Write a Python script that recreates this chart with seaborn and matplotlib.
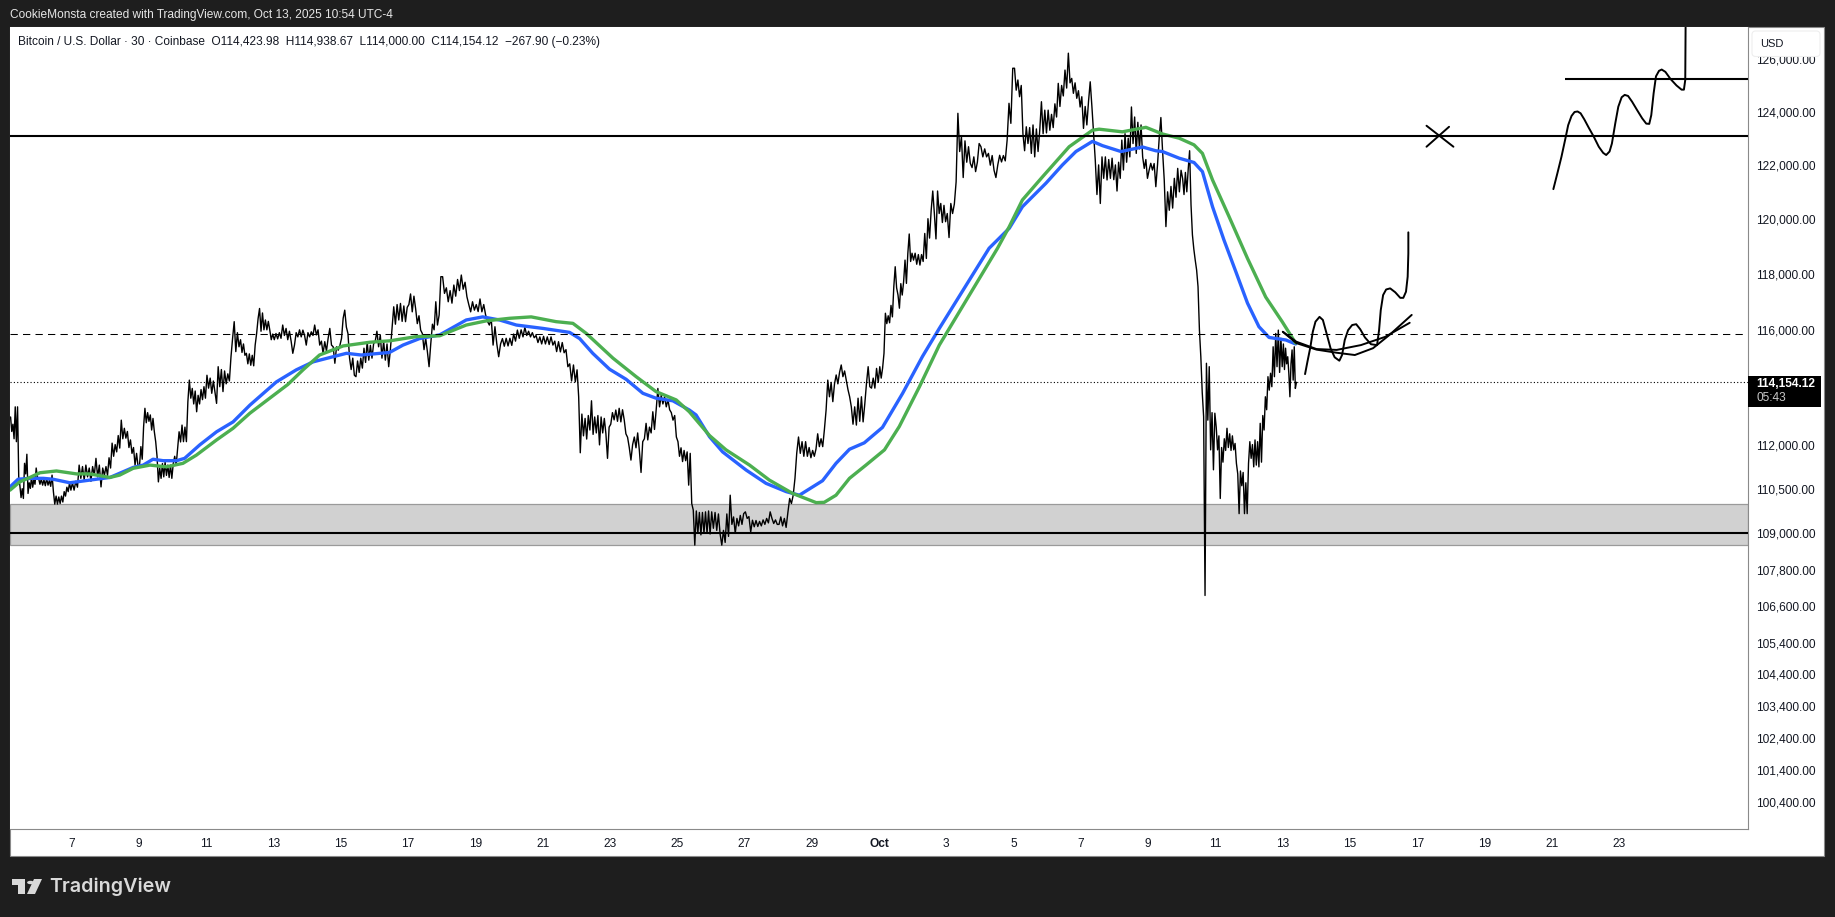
import numpy as np
import pandas as pd
import matplotlib
matplotlib.use("Agg")
import matplotlib.pyplot as plt
from matplotlib.patches import Rectangle, Polygon, Circle, FancyBboxPatch
import seaborn as sns

# ---- price swings, one list per day (days counted from Sep 1; Oct 1 = 31) ----
sep05 = [112950,112450,112700,112200,113300,112100,113300,110900,110600,110200,110500,110170,111360,111000,111670,110340,110700,110510,110900,110550,110800,110650,111200,110900]
sep06 = [110850,110650,110820,110620,110800,110600,110850,110620,110780,110580,110960,110400,109980,110250,109980,110220,110000,110250,110050,110400,110250,110550,110400,110700,110450]
sep07 = [110700,110450,110750,110550,111300,110850,111250,110800,111300,110900,111200,110750,111250,110950,111530,110900,111300,110560,111200,110950]
sep08 = [111250,110950,111550,111200,112050,111600,112000,111750,112310,111880,112840,112200,112560,112220,112450,111900,112160,111700,111900,111300,111700,111240]
sep09 = [111300,111930,111500,112600,113250,112750,113100,112800,113020,112500,112900,112440,112100,111600,110730,111200,110850,111350,110900,111400,110950,111300,110880,111300,110850]
sep10 = [111350,111600,111300,111890,112440,112090,112670,112100,112600,112100,113480,114230,113600,113940,113400,113850,113130,113700,113400,113900,113550,114000,113600]
sep11 = [114400,113950,114300,113770,114200,113800,113420,114700,114000,114600,113830,114550,114100,114450,114200,115050,115700,116290,115230,115900,115400]
sep12 = [115650,115200,115500,115100,115170,114800,115150,114750,115100,114730,115460,115870,116400,116760,115950,116600,116000,116350,116000,116300,115990,115650,115850]
sep13 = [115650,115870,115680,115900,115700,116170,115800,116050,115650,115950,115600,115170,115460,115900,115750,116000,115750,115990,115800,115460]
sep14 = [115900,115750,115930,115800,116170,115820,116000,115460,115600,115170,115580,115250,115700,116050,115460,115400,114820,115400,115280,115450]
sep15 = [115700,116410,116700,116100,115870,115000,114600,115000,114400,114350,114900,114500,115000,114650,115350,114850,115580,114930,115450,115000,115500]
sep16 = [115600,115950,115400,115820,115000,115600,114930,115500,114700,115300,116050,116820,116200,116900,116350,116940,116300,116850,116290,116800]
sep17 = [116900,117280,116640,117200,116760,116220,116500,115990,115870,115300,115700,115230,114700,115500,116200,116000,117000,116170,116530,117900]
sep18 = [117900,117300,117500,117000,117400,116950,117600,117200,117800,117400,117960,117450,117700,117180,116900,116640,117000,116700]
sep19 = [116900,116650,117100,116640,116900,116530,116300,116170,116400,115460,116110,115500,115050,115500,115690,115420,115700,115430]
sep20 = [115700,115450,115850,115600,115990,115700,116000,115750,116090,115800,115950,115750,115900,115720,115800,115550,115750,115500]
sep21 = [115770,115500,115750,115480,115750,115460,115600,115230,115580,115220,115550,115190,115300,114700,114800,114200,114760,114170]
sep22 = [114590,113650,111720,113050,112300,112900,112190,113000,112500,113510,112350,112950,112400,113000,111990,112950,112400,112900,112370,111530,112600]
sep23 = [112700,113100,112850,113190,112800,113250,112780,113200,112850,112370,112250,111900,111470,112000,112260,111890,112400,111800,111050,112100]
sep24 = [112200,112730,112160,112600,112400,113130,112520,113200,113940,113300,113700,113400,113650,113300,113550,113200,113100,112840,113000,112260]
sep25 = [112100,111600,111890,111420,111800,111450,111750,110620,111700,110000,109780,108610,109750,109000,109700,108950,109700,109000,109720,109000,109750,108980]
sep26 = [109720,109170,109700,109100,109650,108980,108610,109100,108700,109650,108900,110280,109300,109550,109000,109500,109250,109600,109300,109660]
sep27 = [109720,109500,109560,109050,109440,109220,109430,109230,109400,109250,109450,109300,109500,109350,109720,109500,109330,109450,109300]
sep28 = [109300,109550,109250,109500,109200,109700,110170,110000,110280,110850,111710,112260,111700,112100,111600,112100,111600,111900,111550]
sep29 = [111800,111600,111850,112370,111930,112200,111930,112520,113190,114230,113650,114150,113480,114100,114410,114100,114500,114760,114350,114550]
sep30 = [114230,113900,113650,113300,112700,113300,112670,113600,112800,113650,112780,113400,114110,114700,114000,113950,114300,113950,114640,114150]
oct01 = [114700,114300,114650,115170,116590,116220,116500,116250,116870,116460,117540,118260,117500,117240,116770,117650,117240,117720,118500,117660,118740,119450,118450,118750]
oct02 = [118500,118750,118350,118700,118320,118700,118450,119470,118560,120010,119300,120310,121030,120200,119270,121030,120200,120570,119870,120500,119900]
oct03 = [120200,119320,120570,120200,120550,121370,123940,122500,123060,121530,122900,122100,122680,122060,121900,122300,121750,122100,122800]
oct04 = [122680,122300,122600,122300,122430,121990,122350,121800,121530,122000,122360,122110,122350,122150,122930,124320,123560,125660]
oct05 = [125660,124820,125210,124570,125000,123170,122530,123430,122800,123400,122430,123500,122300,123350,122500,123300,124380,123170,124060,123200]
oct06 = [124060,123300,123900,123400,124300,123800,125080,124200,125000,124600,125590,124900,126240,125100,125270,124700,125100,124510,124800,124180]
oct07 = [124570,123370,124200,123500,124400,125140,124200,123170,122180,120900,122000,120570,122300,121500,122300,121440,122200,121500,122250,121450]
oct08 = [122000,121030,122100,121500,122930,121810,123170,122100,123000,122300,124180,122800,123800,122430,123600,122600,123500,122300,121870,122200,121500]
oct09 = [121800,122060,121810,122050,121190,122000,123000,123780,122530,121440,119720,121000,120320,121200,120400,121500,120800,121870,121000,121800]
oct10 = [121500,120900,121720,121000,121840,122530,120520,119420,118900,118500,118140,117540,115990,115050,113800,112960,106950,114820,112840,114700,111820,113100,111140,113080]
oct11 = [112600,111820,112300,110170,111900,111400,112200,111800,112560,111900,112370,111800,112300,111820,112040,111360,111000,109660,111100,110600,111050,109660,110700,109660,111360]
oct12 = [112100,111530,112000,111240,112160,111300,112100,111240,112730,111400,113000,112500,113650,113200,114350,113880,114470,114000,115400,114350,115870,114700,115990,114500,115700,114700]
oct13 = [115500,114600,115350,114800,115050,114470,113650,114800,115290,114230,115400,113940,114154]
price_days = [sep05,sep06,sep07,sep08,sep09,sep10,sep11,sep12,sep13,sep14,sep15,sep16,sep17,sep18,sep19,sep20,sep21,sep22,sep23,sep24,sep25,sep26,sep27,sep28,sep29,sep30,oct01,oct02,oct03,oct04,oct05,oct06,oct07,oct08,oct09,oct10,oct11,oct12,oct13]
first_day, last_day = 5.17, 43.42

blue_x = [5.17,5.41,5.76,6.16,6.45,6.95,7.54,8.14,8.83,9.13,9.42,9.72,10.12,10.36,10.81,11.31,11.80,12.30,13.09,13.68,14.18,14.87,15.17,15.61,16.45,16.85,17.34,17.94,18.73,19.22,19.72,20.22,21.01,21.80,22.10,22.49,22.99,23.48,23.98,24.37,24.87,25.36,25.56,25.96,26.35,27.05,27.64,28.24,28.63,29.32,29.72,30.12,30.56,31.10,31.70,32.29,32.79,34.27,34.87,35.26,35.96,36.45,36.85,37.34,37.64,38.19,38.83,39.22,39.42,39.92,40.36,40.61,40.91,41.25,41.60,41.95,42.29,42.59,43.09,43.38]
blue_y = [110560,110820,110850,110850,110820,110700,110790,110880,111220,111300,111500,111450,111450,111530,111990,112440,112780,113360,114170,114590,114870,115080,115170,115110,115200,115460,115690,115820,116350,116460,116350,116170,116050,115910,115690,115170,114610,114260,113770,113600,113510,113190,113020,112270,111750,111130,110680,110400,110280,110770,111360,111840,112060,112590,113770,115060,116050,118930,119660,120450,121320,122000,122500,122880,122720,122500,122670,122530,122500,122250,122090,121750,120450,119230,118090,116950,116110,115730,115640,115500]
green_x = [5.17,5.46,5.76,6.06,6.55,7.15,7.54,8.14,8.43,8.83,9.33,9.82,10.31,10.71,11.31,11.80,12.30,13.43,13.88,14.37,15.07,15.86,16.45,17.25,17.94,18.73,19.33,20.02,20.66,21.40,21.90,22.30,23.09,23.78,24.37,24.97,25.36,25.96,26.45,27.15,27.74,28.43,29.13,29.37,29.72,30.12,30.61,31.16,31.60,32.20,32.79,34.52,34.87,35.26,35.86,36.65,37.34,37.54,38.23,38.93,39.42,39.92,40.36,40.61,40.91,41.40,41.95,42.49,42.98,43.38]
green_y = [110450,110730,110880,111040,111100,111000,111000,110880,110960,111190,111300,111240,111360,111640,112160,112560,113080,114080,114590,115110,115430,115560,115610,115760,115790,116170,116320,116410,116460,116290,116230,115870,115000,114350,113830,113540,113130,112310,111820,111300,110790,110340,110030,110040,110280,110850,111300,111820,112620,114000,115460,118930,119720,120700,121560,122680,123300,123340,123240,123410,123160,123000,122750,122430,121440,120090,118560,117170,116290,115530]

# ---- hand-drawn projections ----
squiggle_x = [43.66,43.73,43.82,43.89,43.97,44.09,44.19,44.30,44.42,44.54,44.68,44.76,44.84,44.94,45.06,45.18,45.30,45.44,45.62,45.80,45.86,45.91,45.98,46.07,46.19,46.34,46.49,46.58,46.66,46.71,46.73,46.73]
squiggle_y = [114440,114870,115400,115930,116290,116460,116350,115870,115340,115030,114910,115110,115640,115990,116170,116200,116020,115730,115490,115460,115990,116700,117240,117440,117480,117340,117140,117140,117360,117900,118740,119510]
cup1_x = [43.00,43.40,44.00,44.60,45.32,46.04,46.77]
cup1_y = [115930,115580,115320,115290,115460,115750,116250]
cup2_x = [43.00,43.40,44.00,44.60,45.14,45.68,46.17,46.83]
cup2_y = [115930,115530,115300,115190,115110,115350,115820,116530]
target_x = [51.04,51.16,51.28,51.40,51.48,51.58,51.67,51.76,51.85,51.96,52.09,52.24,52.39,52.52,52.61,52.71,52.78,52.88,52.97,53.07,53.16,53.26,53.38,53.53,53.68,53.80,53.89,53.95,54.02,54.09,54.18,54.26,54.37,54.52,54.70,54.85,54.92,54.96,54.97]
target_y = [121100,121690,122300,123000,123490,123840,123990,124010,123940,123710,123400,123060,122680,122450,122370,122500,122800,123560,124190,124550,124640,124600,124380,124060,123750,123550,123540,123870,124700,125350,125560,125610,125520,125250,125000,124840,124840,125210,127243]
cross_a_x, cross_a_y = [47.27,48.07], [123470,122680]
cross_b_x, cross_b_y = [47.94,47.27], [123430,122680]
target_level, target_level_from = 125240, 51.40
level_top, level_mid, level_dash = 123080, 109020, 115840
last_price = 114154.12
zone_low, zone_high = 108630, 109970

price_ticks = [126000,124000,122000,120000,118000,116000,112000,110500,109000,107800,106600,105400,104400,103400,102400,101400,100400]
time_ticks = [7,9,11,13,15,17,19,21,23,25,27,29,31,33,35,37,39,41,43,45,47,49,51,53]
time_labels = ["7","9","11","13","15","17","19","21","23","25","27","29","Oct","3","5","7","9","11","13","15","17","19","21","23"]

header = "CookieMonsta created with TradingView.com, Oct 13, 2025 10:54 UTC-4"
legend = "Bitcoin / U.S. Dollar · 30 · Coinbase  O114,423.98  H114,938.67  L114,000.00  C114,154.12  −267.90 (−0.23%)"

# ---- figure ----
sns.set_theme(style="white")
plt.rcParams["font.family"] = ["Liberation Sans", "DejaVu Sans"]
W, H = 1835, 917
DARK, EDGE = "#1e1e1e", "#8a8a8a"
fig = plt.figure(figsize=(W/100, H/100), dpi=100, facecolor=DARK)

def fx(x): return x/W
def fy(y): return 1-y/H
def box(x0, y0, x1, y1, **kw):
    r = Rectangle((fx(x0), fy(y1)), (x1-x0)/W, (y1-y0)/H, transform=fig.transFigure, **kw)
    fig.add_artist(r)
    return r

box(10, 27, 1824, 856, facecolor="white", edgecolor=EDGE, lw=0.8, zorder=-5)
ax = fig.add_axes([fx(10), fy(829.3), (1747.5-10)/W, (829.3-27.3)/H], facecolor="white", zorder=1)

rows = []
for i, vals in enumerate(price_days):
    start = first_day if i == 0 else 5 + i
    end = last_day if i == len(price_days)-1 else 6 + i
    pos = start + (np.arange(len(vals)) + 0.5)/len(vals)*(end-start)
    rows.append(pd.DataFrame({"day": pos, "price": vals}))
price = pd.concat(rows, ignore_index=True)

ax.axhspan(zone_low, zone_high, facecolor="#d1d1d1", edgecolor="#9a9a9a", lw=0.9, zorder=1)
sns.lineplot(data=price, x="day", y="price", estimator=None, sort=False, color="black", lw=1.0, ax=ax, zorder=2, legend=False)
sns.lineplot(x=blue_x, y=blue_y, estimator=None, sort=False, color="#2962FF", lw=2.4, ax=ax, zorder=3, legend=False)
sns.lineplot(x=green_x, y=green_y, estimator=None, sort=False, color="#4CAF50", lw=2.4, ax=ax, zorder=3.1, legend=False)

ax.axhline(level_top, color="black", lw=1.5, zorder=4)
ax.axhline(level_mid, color="black", lw=1.5, zorder=4)
ax.axhline(level_dash, color="black", lw=0.75, dashes=(7, 5), zorder=4)
ax.axhline(last_price, color="black", lw=0.8, dashes=(1, 2), zorder=1.5)
ax.hlines(target_level, target_level_from, 56.81, color="black", lw=1.5, zorder=4)

for xs, ys in [(squiggle_x, squiggle_y), (cup1_x, cup1_y), (cup2_x, cup2_y), (target_x, target_y),
               (cross_a_x, cross_a_y), (cross_b_x, cross_b_y)]:
    sns.lineplot(x=xs, y=ys, estimator=None, sort=False, color="black", lw=1.4, ax=ax, zorder=5, legend=False)
    ax.lines[-1].set_solid_joinstyle("round")

ax.set_yscale("log")
ax.set_xlim(5.17, 56.81)
ax.set_ylim(99570, 127243)
ax.set_xlabel(""); ax.set_ylabel("")
ax.yaxis.tick_right()
ax.minorticks_off()
ax.set_yticks(price_ticks)
ax.set_yticklabels([f"{t:,.2f}" for t in price_ticks])
ax.set_xticks(time_ticks)
ax.set_xticklabels(time_labels)
ax.tick_params(axis="y", length=0, pad=6, labelsize=8.6, labelcolor="#131722")
ax.tick_params(axis="x", length=0, pad=6, labelsize=8.6, labelcolor="#131722")
for lab in ax.get_xticklabels():
    if lab.get_text() == "Oct":
        lab.set_fontweight("bold")
for s in ax.spines.values():
    s.set_color(EDGE); s.set_linewidth(0.8)
ax.spines["left"].set_visible(False); ax.spines["top"].set_visible(False)

# right-hand price scale furniture
usd = FancyBboxPatch((fx(1752), fy(56.5)), 68/W, 25.5/H, boxstyle="round,pad=0,rounding_size=0.002",
                     transform=fig.transFigure, facecolor="white", edgecolor="#eeeeee", lw=0.8, zorder=6, mutation_aspect=2)
fig.add_artist(usd)
fig.text(fx(1760), fy(44), "USD", color="#131722", fontsize=8.0, va="center", ha="left", zorder=7)
box(1747.5, 376, 1821, 407, facecolor="black", edgecolor="none", zorder=6)
fig.text(fx(1756), fy(384), "114,154.12", color="white", fontsize=8.6, fontweight="bold", va="center", ha="left", zorder=7)
fig.text(fx(1756), fy(398), "05:43", color="#c8c8c8", fontsize=8.6, va="center", ha="left", zorder=7)

# header texts
fig.text(fx(10), fy(15), header, color="#e6e6e6", fontsize=8.6, va="center", ha="left")
fig.text(fx(18), fy(41.5), legend, color="#131722", fontsize=8.6, va="center", ha="left", zorder=7)

# footer logo
LOGO = "#d9d9d9"
box(12, 879, 25, 884.5, facecolor=LOGO, edgecolor="none")
box(17.5, 879, 25, 894, facecolor=LOGO, edgecolor="none")
fig.add_artist(Circle((fx(30.5), fy(882.5)), 3.4/W, transform=fig.transFigure, facecolor=LOGO, edgecolor="none"))
fig.add_artist(Polygon([(fx(34), fy(879)), (fx(42), fy(879)), (fx(35), fy(894)), (fx(27), fy(894))],
                       transform=fig.transFigure, facecolor=LOGO, edgecolor="none"))
fig.text(fx(49), fy(887), "TradingView", color=LOGO, fontsize=14.2, fontweight="semibold", family="Inter", va="center", ha="left")

fig.savefig("out.png", dpi=100, facecolor=DARK)
